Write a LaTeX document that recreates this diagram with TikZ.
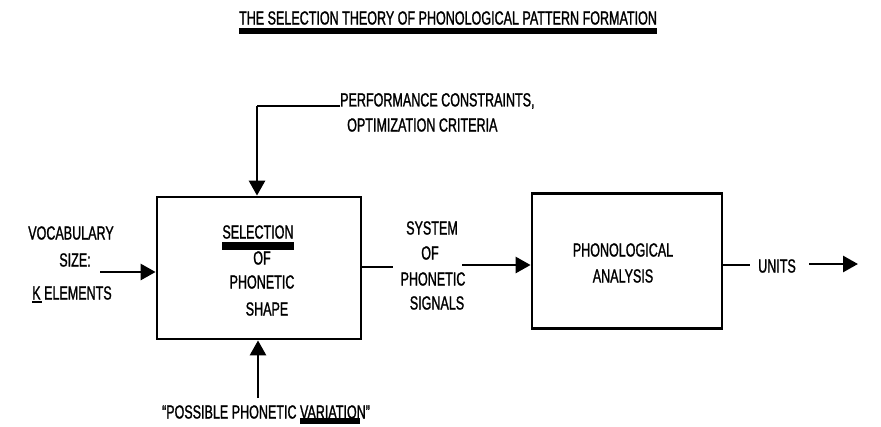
\documentclass[tikz,border=0pt]{standalone}
\usepackage{fontspec}
\setmainfont{Liberation Sans}[FakeStretch=0.66,FakeBold=1.2]
\usetikzlibrary{arrows.meta}
\begin{document}
\begin{tikzpicture}[x=1pt,y=-1pt,
  lbl/.style={font=\fontsize{19}{21}\selectfont, inner sep=0pt},
  boxs/.style={draw, line width=2.8pt, inner sep=0pt},
  conn/.style={line width=2.8pt, -{Triangle[length=15pt,width=16pt]}},
  plainline/.style={line width=2.8pt},
  bar/.style={line width=#1}]
\useasboundingbox (0,0) rectangle (881,426);
% title
\node[lbl] (title) at (448,18) {THE SELECTION THEORY OF PHONOLOGICAL PATTERN FORMATION};
\draw[bar=6pt] (title.south west |- 0,31) -- (title.south east |- 0,31);
% boxes
\node[boxs, minimum width=204pt, minimum height=142pt] (sel) at (259,268) {};
\node[boxs, minimum width=190pt, minimum height=135pt] (ana) at (627,261) {};
% box 1 text
\node[lbl] (s1) at (258,232) {SELECTION};
\draw[bar=8pt] (s1.south west |- 0,246) -- (s1.south east |- 0,246);
\node[lbl] (s2) at (262,258) {OF};
\node[lbl] (s3) at (262,282) {PHONETIC};
\node[lbl] (s4) at (267,309) {SHAPE};
% box 2 text
\node[lbl] (a1) at (623,250) {PHONOLOGICAL};
\node[lbl] (a2) at (623,276) {ANALYSIS};
% top input
\node[lbl, anchor=west] (perf1) at (340,101) {PERFORMANCE CONSTRAINTS,};
\node[lbl, anchor=west] (perf2) at (347,125) {OPTIMIZATION CRITERIA};
\coordinate (tcorner) at (257,106);
\draw[plainline] (perf1.west |- tcorner) -- (tcorner);
\draw[conn] (tcorner) -- (tcorner |- sel.north);
% left input
\node[lbl] (v1) at (71,233) {VOCABULARY};
\node[lbl] (v2) at (75,260) {SIZE:};
\node[lbl] (v3) at (72,293) {K ELEMENTS};
\draw[line width=1.5pt] (v3.south west |- 0,302) -- ++(10,0);
\coordinate (vin) at (100,272);
\draw[conn] (vin) -- (vin -| sel.west);
% bottom input
\node[lbl] (poss) at (266,412) {“POSSIBLE PHONETIC VARIATION”};
\draw[bar=6pt] (300,421) -- (360,421);
\coordinate (bin) at (258,398);
\draw[conn] (bin) -- (bin |- sel.south);
% middle
\node[lbl] (m1) at (432,228) {SYSTEM};
\node[lbl] (m2) at (430,253) {OF};
\node[lbl] (m3) at (433,279) {PHONETIC};
\node[lbl] (m4) at (437,303) {SIGNALS};
\coordinate (mout) at (393,267);
\draw[plainline] (mout -| sel.east) -- (mout);
\coordinate (min) at (462,265);
\draw[conn] (min) -- (min -| ana.west);
% output
\node[lbl] (units) at (777,266) {UNITS};
\coordinate (uout) at (750,265);
\draw[plainline] (uout -| ana.east) -- (uout);
\coordinate (uarr) at (809,264);
\coordinate (uend) at (858,264);
\draw[conn] (uarr) -- (uend);
\end{tikzpicture}
\end{document}
